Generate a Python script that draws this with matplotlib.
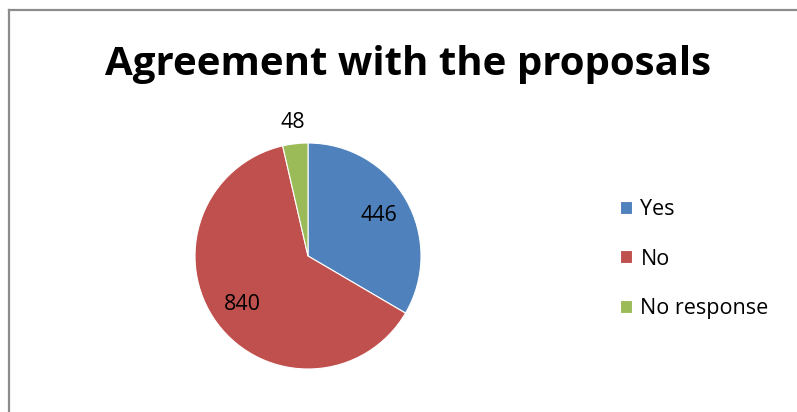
import matplotlib.pyplot as plt
from matplotlib.lines import Line2D
import numpy as np

# data
categories = ["Yes", "No", "No response"]
counts = [446, 840, 48]
colors = ["#4F81BD", "#C0504D", "#9BBB59"]

W, H = 797, 412
fig = plt.figure(figsize=(W / 100, H / 100), dpi=100)
fig.patch.set_facecolor("white")

# gray frame (top and left only visible)
fig.add_artist(Line2D([9 / W, 1], [1 - 10 / H, 1 - 10 / H], color="#8c8c8c", lw=1.6))
fig.add_artist(Line2D([9 / W, 9 / W], [0, 1 - 10 / H], color="#8c8c8c", lw=1.6))

# title
fig.text(408 / W, 1 - 65 / H, "Agreement with the proposals", ha="center", va="center",
         fontsize=29, fontweight="bold", family="Open Sans")

# pie axes: center (308,256), radius 113 px
cx, cy, r = 308, 256, 113
ax = fig.add_axes([(cx - r) / W, (H - cy - r) / H, 2 * r / W, 2 * r / H])
wedges, _ = ax.pie(counts, colors=colors, startangle=90, counterclock=False,
                   wedgeprops=dict(edgecolor="white", linewidth=0.8))
ax.set_xlim(-1, 1)
ax.set_ylim(-1, 1)
ax.set_aspect("equal")

# data labels: inside for big slices, outside for the small one
for w, n in zip(wedges, counts):
    mid = np.deg2rad((w.theta1 + w.theta2) / 2)
    d = 0.72 if n > 100 else 1.19
    ax.text(d * np.cos(mid), d * np.sin(mid), str(n), ha="center", va="center",
            fontsize=15.5, family="Open Sans", color="black")

fig.legend(wedges, categories, loc="center left", bbox_to_anchor=(620 / W, 1 - 259 / H),
           frameon=False, prop={"family": "Open Sans", "size": 15.5},
           handlelength=0.55, handleheight=0.55, handletextpad=0.4, labelspacing=1.32,
           borderpad=0, borderaxespad=0)

fig.savefig("out.png", dpi=100)
